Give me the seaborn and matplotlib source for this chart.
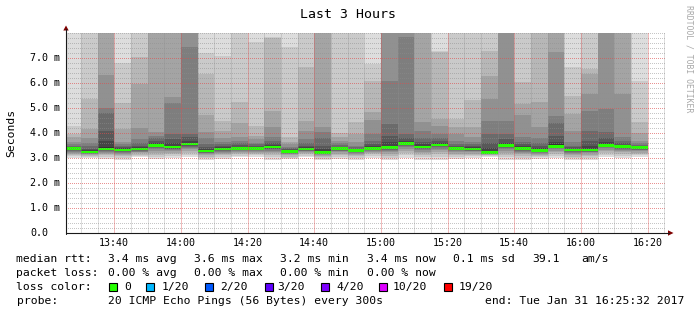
import numpy as np
import pandas as pd
import matplotlib
matplotlib.use("Agg")
import matplotlib.pyplot as plt
from matplotlib.patches import Polygon, Rectangle
from matplotlib.lines import Line2D
import seaborn as sns

# ---------------- data (ms), one value per 5-minute slot ----------------
median = [3.37,3.24,3.36,3.32,3.36,3.49,3.44,3.56,3.28,3.36,3.39,3.39,3.44,3.27,3.36,3.23,3.37,3.29,3.39,3.43,3.57,3.44,3.52,3.39,3.36,3.23,3.49,3.37,3.29,3.47,3.32,3.32,3.51,3.45,3.42]
p01 = [3.01,3.00,2.96,2.93,3.03,2.96,3.00,3.04,2.93,2.97,3.03,3.06,2.93,2.95,3.04,2.92,2.97,2.93,3.01,2.91,3.00,2.93,2.93,2.97,3.00,3.04,2.93,2.93,2.97,3.00,2.91,2.93,3.04,3.00,3.04]
p02 = [3.08,3.05,3.04,3.00,3.09,3.06,3.08,3.13,3.00,3.05,3.10,3.12,3.03,3.01,3.10,2.98,3.05,3.00,3.08,3.01,3.11,3.03,3.05,3.05,3.07,3.08,3.04,3.02,3.03,3.09,2.99,3.01,3.13,3.09,3.11]
p03 = [3.14,3.09,3.11,3.07,3.14,3.14,3.15,3.22,3.06,3.11,3.16,3.17,3.12,3.06,3.15,3.03,3.12,3.07,3.15,3.10,3.21,3.12,3.16,3.12,3.13,3.11,3.14,3.10,3.09,3.17,3.06,3.08,3.21,3.16,3.17]
p04 = [3.18,3.12,3.17,3.13,3.19,3.22,3.21,3.30,3.11,3.17,3.21,3.22,3.19,3.11,3.20,3.08,3.18,3.12,3.20,3.18,3.30,3.20,3.25,3.18,3.18,3.14,3.22,3.16,3.14,3.24,3.12,3.14,3.28,3.23,3.22]
p05 = [3.22,3.15,3.21,3.18,3.23,3.29,3.27,3.36,3.15,3.22,3.25,3.26,3.25,3.15,3.24,3.12,3.23,3.17,3.25,3.25,3.37,3.26,3.32,3.23,3.23,3.16,3.29,3.21,3.18,3.30,3.17,3.19,3.34,3.28,3.27]
p06 = [3.25,3.17,3.25,3.22,3.26,3.35,3.31,3.42,3.19,3.26,3.29,3.30,3.30,3.18,3.27,3.15,3.27,3.20,3.29,3.30,3.43,3.31,3.38,3.28,3.27,3.18,3.35,3.26,3.21,3.35,3.21,3.23,3.39,3.33,3.31]
p07 = [3.28,3.19,3.28,3.25,3.29,3.39,3.35,3.46,3.22,3.29,3.32,3.33,3.35,3.21,3.30,3.18,3.30,3.23,3.32,3.34,3.48,3.35,3.43,3.32,3.30,3.19,3.40,3.30,3.24,3.39,3.25,3.26,3.43,3.37,3.34]
p08 = [3.31,3.21,3.31,3.27,3.31,3.43,3.38,3.50,3.24,3.32,3.35,3.35,3.38,3.23,3.32,3.20,3.33,3.25,3.35,3.38,3.52,3.39,3.47,3.35,3.32,3.20,3.44,3.33,3.26,3.42,3.28,3.28,3.46,3.40,3.37]
p09 = [3.33,3.22,3.33,3.29,3.33,3.46,3.41,3.53,3.26,3.34,3.37,3.37,3.41,3.25,3.34,3.21,3.35,3.27,3.37,3.40,3.55,3.41,3.50,3.37,3.34,3.21,3.47,3.35,3.27,3.45,3.30,3.30,3.49,3.42,3.39]
p10 = [3.35,3.23,3.35,3.31,3.35,3.48,3.43,3.55,3.27,3.35,3.38,3.38,3.43,3.26,3.35,3.22,3.36,3.28,3.38,3.42,3.56,3.43,3.51,3.38,3.35,3.22,3.48,3.36,3.28,3.46,3.31,3.31,3.50,3.44,3.41]
p11 = [3.40,3.27,3.45,3.36,3.40,3.52,3.50,3.62,3.32,3.39,3.42,3.41,3.47,3.29,3.39,3.27,3.39,3.31,3.42,3.50,3.62,3.48,3.56,3.42,3.39,3.27,3.54,3.41,3.34,3.55,3.34,3.38,3.56,3.48,3.43]
p12 = [3.43,3.31,3.70,3.40,3.45,3.60,3.60,3.70,3.38,3.43,3.46,3.44,3.52,3.32,3.44,3.35,3.42,3.34,3.48,3.65,3.70,3.55,3.62,3.45,3.43,3.40,3.62,3.47,3.40,3.65,3.38,3.50,3.65,3.53,3.45]
p13 = [3.46,3.38,4.10,3.44,3.50,3.70,3.75,3.85,3.45,3.48,3.52,3.48,3.60,3.35,3.50,3.50,3.46,3.38,3.57,3.90,3.80,3.65,3.70,3.50,3.48,3.60,3.75,3.55,3.48,3.90,3.43,3.70,3.80,3.60,3.48]
p14 = [3.50,3.48,4.78,3.48,3.60,3.80,3.97,3.97,3.55,3.55,3.60,3.55,3.70,3.40,3.60,3.80,3.52,3.43,3.70,4.37,3.97,3.80,3.80,3.58,3.55,3.95,3.97,3.65,3.60,4.40,3.50,4.10,4.04,3.70,3.52]
p15 = [3.55,3.62,5.00,3.55,3.75,3.90,5.20,7.45,3.80,3.65,3.70,3.62,3.84,3.45,3.75,4.04,3.60,3.50,3.97,6.10,7.82,4.10,3.97,3.70,3.65,4.50,4.50,3.84,3.80,4.70,3.64,4.90,4.97,3.84,3.60]
p16 = [3.64,3.80,6.30,3.64,4.20,4.04,5.46,8.20,4.04,3.80,3.85,3.75,4.24,3.55,4.10,4.24,3.70,3.64,4.53,8.20,8.30,4.44,4.30,3.97,3.85,5.38,8.30,4.70,4.24,7.26,4.10,5.56,8.30,5.56,3.70]
p17 = [3.84,4.15,8.30,4.17,5.96,8.40,8.30,8.80,4.71,4.10,4.40,3.90,4.90,3.65,4.50,8.30,3.85,3.97,4.83,8.70,8.90,8.20,4.57,4.24,4.24,6.30,8.90,5.18,5.23,8.30,4.75,6.37,8.90,8.20,4.00]
p18 = [3.97,5.36,8.70,5.20,7.05,9.00,8.90,9.50,6.36,4.50,5.23,4.30,7.80,3.85,6.63,8.80,4.00,4.43,6.10,9.30,9.60,8.80,7.25,4.57,5.30,7.29,9.50,6.03,8.30,8.90,5.50,6.56,9.60,8.70,4.43]
p19 = [4.30,8.40,9.40,6.80,8.50,9.80,9.60,10.4,7.22,7.09,8.40,7.65,7.86,7.45,8.30,9.50,8.30,8.40,6.76,10.1,10.5,9.40,7.30,8.30,8.40,8.50,10.2,8.40,8.90,9.70,6.63,8.40,10.4,9.30,6.10]
p20 = [8.60,9.10,10.5,8.80,9.30,11.2,10.8,12.0,8.60,8.70,9.00,8.50,8.60,8.50,9.10,10.6,8.90,9.00,8.50,11.5,12.3,10.4,8.60,8.90,9.00,9.40,11.6,9.20,9.80,10.9,8.50,9.10,11.8,10.2,8.60]

xtick_labels = ["13:40", "14:00", "14:20", "14:40", "15:00", "15:20", "15:40", "16:00", "16:20"]
ytick_labels = ["0.0", "1.0 m", "2.0 m", "3.0 m", "4.0 m", "5.0 m", "6.0 m", "7.0 m"]
loss_labels = ["0", "1/20", "2/20", "3/20", "4/20", "10/20", "19/20"]
loss_colors = ["#26ff00", "#00b8ff", "#0059ff", "#5e00ff", "#7e00ff", "#dd00ff", "#ff0000"]

# ---------------- style ----------------
sns.set_theme(style="white")
plt.rcParams["font.family"] = ["DejaVu Sans Mono", "DejaVu Sans"]

W, H = 697, 315
PW, PH = 600, 200          # plot area in pixels
fig = plt.figure(figsize=(W / 100, H / 100), dpi=100, facecolor="white")
ax = fig.add_axes([66 / W, 1 - 233 / H, PW / W, PH / H])
ax.set_facecolor("white")


def fx(x):
    return x / W


def fy(y):
    return 1 - y / H


# time axis in minutes after 13:00
t_ref = pd.Timestamp("2017-01-31 13:00")
slot_end = pd.date_range("2017-01-31 13:30", periods=len(median), freq="5min")
x_end = np.asarray((slot_end - t_ref).total_seconds() / 60.0)
x_left = x_end - 5
x_start = 25 + 32 / 60
x_stop = x_start + 180
y_top = 8.0
ax.set_xlim(x_start, x_stop)
ax.set_ylim(0, y_top)

pings = [p01, p02, p03, p04, p05, p06, p07, p08, p09, p10,
         p11, p12, p13, p14, p15, p16, p17, p18, p19, p20]
half = len(pings) // 2
for ib in range(1, half + 1):
    it = len(pings) + 1 - ib
    lo = np.array(pings[ib - 1])
    hi = np.array(pings[it - 1])
    g = int(190 / half * (half - ib)) + 50
    ax.bar(x_left, hi - lo, bottom=lo, width=5, align="edge",
           color=f"#{g:02x}{g:02x}{g:02x}", linewidth=0,
           antialiased=False, zorder=1)

sw = 0.11
ax.bar(x_left, sw, bottom=np.array(median) - sw / 2, width=5, align="edge",
       color=loss_colors[0], linewidth=0, antialiased=False, zorder=2)

# ---------------- dotted rrdtool-like grid ----------------
x_major = np.arange(40, 201, 20)
x_minor = np.arange(30, 206, 5)
y_major = np.arange(1, 8, 1)
y_minor = np.arange(0.2, 8.01, 0.2)

minor_rgba = (0.56, 0.56, 0.56, 0.5)
major_rgba = (0.87, 0.31, 0.31, 0.62)

# horizontal dotted lines: pixel exact overlay
grid = np.zeros((PH, PW, 4))


def row_px(v):
    return int(np.clip(np.round(PH - v / y_top * PH), 0, PH - 1))


for rgba, ys in ((minor_rgba, y_minor), (major_rgba, y_major)):
    for v in ys:
        grid[row_px(v), 0::2] = rgba
big = np.kron(grid, np.ones((4, 4, 1)))
ax.imshow(big, extent=(x_start, x_stop, 0, y_top), aspect="auto",
          interpolation="nearest", zorder=3, origin="upper")
ax.set_xlim(x_start, x_stop)
ax.set_ylim(0, y_top)

# vertical lines: thin light lines (dotted look approximated by half opacity)
x_minor_only = [t for t in x_minor if t not in set(x_major)]
ax.vlines(x_minor_only, 0, y_top, colors=[(0.56, 0.56, 0.56, 0.3)], linewidth=0.72,
          antialiased=False, zorder=3)
ax.vlines(x_major, 0, y_top, colors=[(0.87, 0.31, 0.31, 0.38)], linewidth=0.72,
          antialiased=False, zorder=3)

# ticks
ax.set_xticks(x_major)
ax.set_xticklabels(xtick_labels)
ax.set_xticks(x_minor, minor=True)
ax.set_yticks(np.arange(0, 8, 1))
ax.set_yticklabels([])
ax.set_yticks(y_minor, minor=True)
ax.grid(False)
ax.tick_params(which="minor", direction="out", length=1.5, width=0.72, color="#c4c4c4")
ax.tick_params(which="major", direction="out", length=2.2, width=0.72, color="#e49a9a")
ax.tick_params(axis="x", which="major", pad=1.5, labelsize=7.2, labelcolor="black")
for s in ax.spines.values():
    s.set_visible(False)

for v, lab in zip(range(len(ytick_labels)), ytick_labels):
    ax.text((30.5 - 66) / PW, v, lab, transform=ax.get_yaxis_transform(),
            ha="left", va="center", fontsize=7.2, color="black")

# axis lines and arrows
axis_col = "#1a1a1a"
fig.add_artist(Line2D([fx(66), fx(66)], [fy(233.5), fy(29)], color=axis_col, lw=0.8))
fig.add_artist(Line2D([fx(65.5), fx(669)], [fy(233), fy(233)], color=axis_col, lw=0.8))
fig.add_artist(Polygon([[fx(63.3), fy(30.5)], [fx(68.7), fy(30.5)], [fx(66), fy(25.5)]],
                       closed=True, color="#7F0000", lw=0))
fig.add_artist(Polygon([[fx(668), fy(230.3)], [fx(668), fy(235.7)], [fx(673.5), fy(233)]],
                       closed=True, color="#7F0000", lw=0))

# ---------------- texts ----------------
fig.text(fx(347.5), fy(14), "Last 3 Hours", ha="center", va="center", fontsize=9.5, color="black")
fig.text(fx(11), fy(133), "Seconds", ha="center", va="center", rotation=90, fontsize=8.2, color="black")
fig.text(fx(688.5), fy(5), "RRDTOOL / TOBI OETIKER", ha="center", va="top", rotation=-90,
         fontsize=5.9, color="#a8a8a8")

fs = 8.2
rows = [
    (259, [(16.5, "median rtt:"), (108, "3.4 ms avg"), (194, "3.6 ms max"), (280, "3.2 ms min"),
           (367, "3.4 ms now"), (453, "0.1 ms sd"), (532.6, "39.1"), (581.7, "am/s")]),
    (273, [(16.5, "packet loss:"), (108, "0.00 % avg"), (194, "0.00 % max"), (280, "0.00 % min"),
           (367, "0.00 % now")]),
    (287, [(16.5, "loss color:")]),
    (301, [(16.5, "probe:"), (108, "20 ICMP Echo Pings (56 Bytes) every 300s")]),
]
for y, items in rows:
    for x, s in items:
        fig.text(fx(x), fy(y), s, ha="left", va="center", fontsize=fs, color="black")
fig.text(fx(684), fy(301), "end: Tue Jan 31 16:25:32 2017", ha="right", va="center",
         fontsize=fs, color="black")

sq_x = [108.5, 146.4, 205.4, 264.7, 321.4, 378.6, 444.2]
lab_x = [124, 161.6, 220.5, 277.7, 336, 392.9, 458.5]
sq = 8.0
for xs, xl, lab, col in zip(sq_x, lab_x, loss_labels, loss_colors):
    fig.add_artist(Rectangle((fx(xs), fy(287 + sq / 2)), sq / W, sq / H,
                             facecolor=col, edgecolor="black", lw=0.8))
    fig.text(fx(xl), fy(287), lab, ha="left", va="center", fontsize=fs, color="black")

fig.savefig("out.png", dpi=100, facecolor="white")
